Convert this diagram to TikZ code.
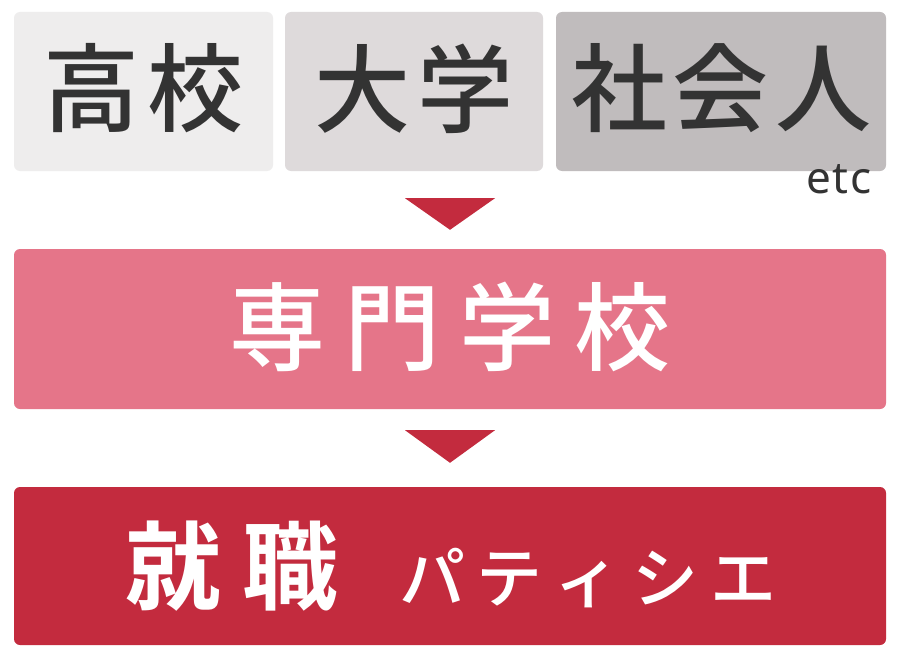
\documentclass[tikz,border=0pt]{standalone}
\usepackage{fontspec}
\setmainfont{Noto Sans}
\newfontfamily\jpfont{Noto Sans CJK JP Medium}
\newfontfamily\jpbold{Noto Sans CJK JP Bold}
\definecolor{txtgray}{HTML}{333333}
\definecolor{boxA}{HTML}{EEEDED}
\definecolor{boxB}{HTML}{DEDADB}
\definecolor{boxC}{HTML}{C0BCBD}
\definecolor{pinkbox}{HTML}{E57589}
\definecolor{redbox}{HTML}{C32B3E}
\begin{document}
\begin{tikzpicture}[x=1pt,y=-1pt,
  card/.style={rounded corners=6pt, inner sep=0pt, draw=none},
  bigjp/.style={font=\jpfont\fontsize{96}{96}\selectfont, inner sep=0pt},
  arrowtri/.style={fill=redbox, draw=none}]
\useasboundingbox (0,0) rectangle (900,661);
\fill[white] (0,0) rectangle (900,661);
% top row
\node[card, fill=boxA, minimum width=259pt, minimum height=159pt] (hs) at (143.5,91.5) {};
\node[card, fill=boxB, minimum width=258pt, minimum height=159pt] (uni) at (414,91.5) {};
\node[card, fill=boxC, minimum width=330pt, minimum height=159pt] (work) at (721,91.5) {};
\node[bigjp, text=txtgray] (hst) at ([yshift=3pt]hs.center) {高\hspace{8pt}校};
\node[bigjp, text=txtgray] (unit) at ([yshift=3pt]uni.center) {大\hspace{8pt}学};
\node[bigjp, text=txtgray] (workt) at ([yshift=3pt]work.center) {社\hspace{6pt}会\hspace{6pt}人};
\node[anchor=base east, inner sep=0pt, text=txtgray, font=\fontsize{44}{44}\selectfont\addfontfeature{LetterSpace=4}] (etc) at (872,193) {etc};
% middle
\node[card, fill=pinkbox, minimum width=872pt, minimum height=160pt] (school) at (450,329) {};
\node[bigjp, text=white] (schoolt) at ([yshift=2pt]school.center) {専\hspace{19pt}門\hspace{19pt}学\hspace{19pt}校};
% bottom
\node[card, fill=redbox, minimum width=872pt, minimum height=158pt] (job) at (450,566) {};
\node[inner sep=0pt, text=white] (jobt) at (451,566)
  {{\jpbold\fontsize{96}{96}\selectfont 就\hspace{22pt}職}\hspace{60pt}{\jpfont\fontsize{66}{66}\selectfont パ\hspace{12pt}テ\hspace{12pt}ィ\hspace{12pt}シ\hspace{12pt}エ}};
% arrows
\fill[arrowtri] ([xshift=-45pt,yshift=-27pt]work.south -| school.north) -- ([xshift=45pt,yshift=-27pt]work.south -| school.north) -- ([yshift=19pt]school.north) -- cycle;
\fill[arrowtri] ([xshift=-45pt,yshift=-21pt]school.south) -- ([xshift=45pt,yshift=-21pt]school.south) -- ([yshift=24pt]job.north) -- cycle;
\end{tikzpicture}
\end{document}
